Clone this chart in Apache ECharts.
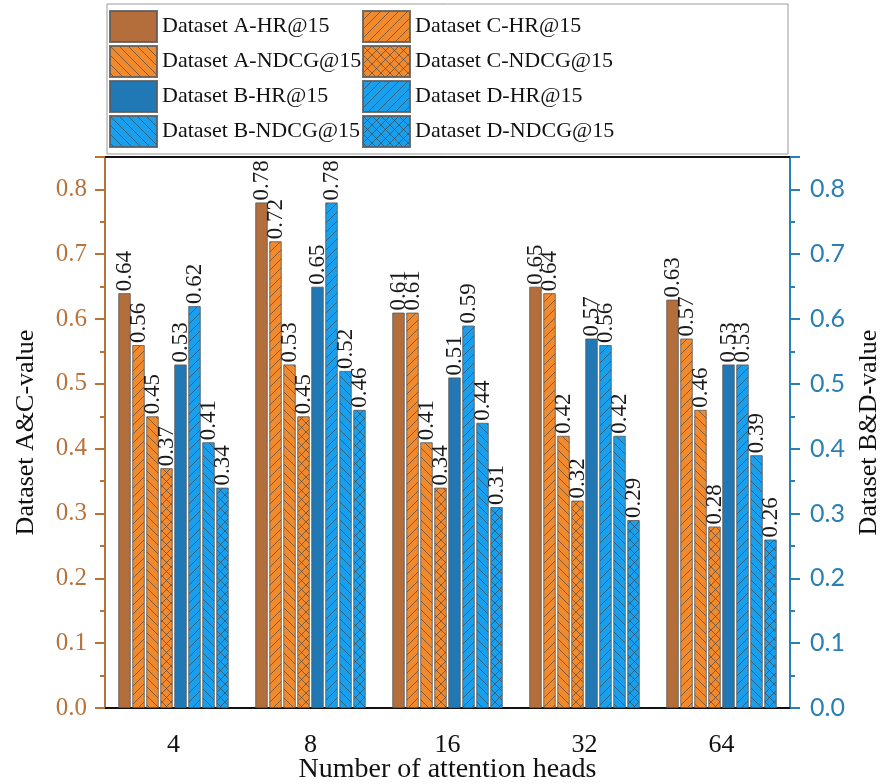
<!DOCTYPE html>
<html>
<head>
<meta charset="utf-8">
<script src="https://cdn.jsdelivr.net/npm/echarts@6/dist/echarts.min.js"></script>
<style>
  html, body { margin: 0; padding: 0; background: #fff; }
  #main { width: 882px; height: 784px; }
</style>
</head>
<body>
<div id="main"></div>
<script>
// categories and values
const heads = ['4', '8', '16', '32', '64'];
const aHR = [0.64, 0.78, 0.61, 0.65, 0.63];
const cHR = [0.56, 0.72, 0.61, 0.64, 0.57];
const aNDCG = [0.45, 0.53, 0.41, 0.42, 0.46];
const cNDCG = [0.37, 0.45, 0.34, 0.32, 0.28];
const bHR = [0.53, 0.65, 0.51, 0.57, 0.53];
const dHR = [0.62, 0.78, 0.59, 0.56, 0.53];
const bNDCG = [0.41, 0.52, 0.44, 0.42, 0.39];
const dNDCG = [0.34, 0.46, 0.31, 0.29, 0.26];

const SERIF = 'Liberation Serif';
const leftColor = '#b8733a';
const rightColor = '#2a80b4';

// hatch fills
function hatch(bg, kind) {
  const s = 9;
  const c = document.createElement('canvas');
  c.width = s; c.height = s;
  const ctx = c.getContext('2d');
  ctx.fillStyle = bg;
  ctx.fillRect(0, 0, s, s);
  ctx.strokeStyle = 'rgba(60,60,60,0.6)';
  ctx.lineWidth = 1;
  ctx.beginPath();
  if (kind === '/' || kind === 'x') {
    ctx.moveTo(0, s); ctx.lineTo(s, 0);
    ctx.moveTo(-1, 1); ctx.lineTo(1, -1);
    ctx.moveTo(s - 1, s + 1); ctx.lineTo(s + 1, s - 1);
  }
  if (kind === '\\' || kind === 'x') {
    ctx.moveTo(0, 0); ctx.lineTo(s, s);
    ctx.moveTo(-1, s - 1); ctx.lineTo(1, s + 1);
    ctx.moveTo(s - 1, -1); ctx.lineTo(s + 1, 1);
  }
  ctx.stroke();
  return { image: c, repeat: 'repeat' };
}

const brown = '#b46e3c';
const orange = '#f08a2d';
const darkBlue = '#2079b5';
const lightBlue = '#18a0ef';

function bar(name, data, fill, axis) {
  return {
    name: name,
    type: 'bar',
    yAxisIndex: axis,
    data: data,
    barWidth: 12.5,
    barGap: '12%',
    itemStyle: { color: fill, borderColor: 'rgba(90,90,90,0.85)', borderWidth: 1 },
    label: {
      show: true,
      position: 'top',
      rotate: 90,
      align: 'left',
      verticalAlign: 'middle',
      distance: 2,
      fontFamily: SERIF,
      fontSize: 23,
      color: '#1a1a1a',
      formatter: p => p.value.toFixed(2)
    }
  };
}

const series = [
  bar('Dataset A-HR@15', aHR, brown, 0),
  bar('Dataset C-HR@15', cHR, hatch(orange, '/'), 0),
  bar('Dataset A-NDCG@15', aNDCG, hatch(orange, '\\'), 0),
  bar('Dataset C-NDCG@15', cNDCG, hatch(orange, 'x'), 0),
  bar('Dataset B-HR@15', bHR, darkBlue, 1),
  bar('Dataset D-HR@15', dHR, hatch(lightBlue, '/'), 1),
  bar('Dataset B-NDCG@15', bNDCG, hatch(lightBlue, '\\'), 1),
  bar('Dataset D-NDCG@15', dNDCG, hatch(lightBlue, 'x'), 1)
];

function legend(left, names) {
  return {
    orient: 'vertical',
    left: left,
    top: 10,
    padding: 0,
    itemWidth: 47,
    itemHeight: 31,
    itemGap: 2,
    icon: 'rect',
    selectedMode: false,
    data: names,
    textStyle: { fontFamily: SERIF, fontSize: 22, color: '#111', lineHeight: 24 }
  };
}

function valueAxis(pos, color, name, gap, labelFont, margin) {
  return {
    type: 'value',
    position: pos,
    min: 0,
    max: 0.85,
    interval: 0.1,
    name: name,
    nameLocation: 'middle',
    nameGap: gap,
    nameTextStyle: { fontFamily: SERIF, fontSize: 26, color: '#111' },
    axisLine: { show: true, lineStyle: { color: color, width: 2 } },
    axisTick: { show: true, length: 10, lineStyle: { color: color, width: 2 } },
    minorTick: { show: true, splitNumber: 2, length: 5, lineStyle: { color: color, width: 2 } },
    splitLine: { show: false },
    axisLabel: {
      color: color,
      fontFamily: labelFont,
      fontSize: 25,
      margin: margin,
      showMaxLabel: false,
      formatter: v => v.toFixed(1)
    }
  };
}

const chart = echarts.init(document.getElementById('main'));
chart.setOption({
  backgroundColor: '#fff',
  animation: false,
  grid: { left: 105, right: 92, top: 157, bottom: 76, outerBoundsMode: 'none', containLabel: false },
  legend: [
    legend(109, ['Dataset A-HR@15', 'Dataset A-NDCG@15', 'Dataset B-HR@15', 'Dataset B-NDCG@15']),
    legend(362, ['Dataset C-HR@15', 'Dataset C-NDCG@15', 'Dataset D-HR@15', 'Dataset D-NDCG@15'])
  ],
  graphic: [{
    type: 'rect',
    shape: { x: 107, y: 4, width: 681, height: 150 },
    style: { fill: 'none', stroke: '#9a9a9a', lineWidth: 1 },
    z: -1
  }],
  xAxis: [
    {
      type: 'category',
      position: 'bottom',
      data: heads,
      name: 'Number of attention heads',
      nameLocation: 'middle',
      nameMoveOverlap: false,
      nameGap: 48,
      nameTextStyle: { fontFamily: SERIF, fontSize: 28, color: '#111' },
      axisLine: { lineStyle: { color: '#111', width: 2 } },
      axisTick: { alignWithLabel: true, length: 9, lineStyle: { color: '#111', width: 2 } },
      axisLabel: { fontFamily: SERIF, fontSize: 26, color: '#111', margin: 24 }
    },
    {
      type: 'category',
      position: 'bottom',
      data: heads,
      axisLine: { show: false },
      axisTick: { length: 5, lineStyle: { color: '#111', width: 2 } },
      axisLabel: { show: false }
    },
    {
      type: 'category',
      position: 'top',
      data: heads,
      axisLine: { lineStyle: { color: '#111', width: 2 } },
      axisTick: { show: false },
      axisLabel: { show: false }
    }
  ],
  yAxis: [
    valueAxis('left', leftColor, 'Dataset A&C-value', 66, SERIF, 18),
    valueAxis('right', rightColor, 'Dataset B&D-value', 64, 'Lato', 20)
  ],
  series: series
});
</script>
</body>
</html>
